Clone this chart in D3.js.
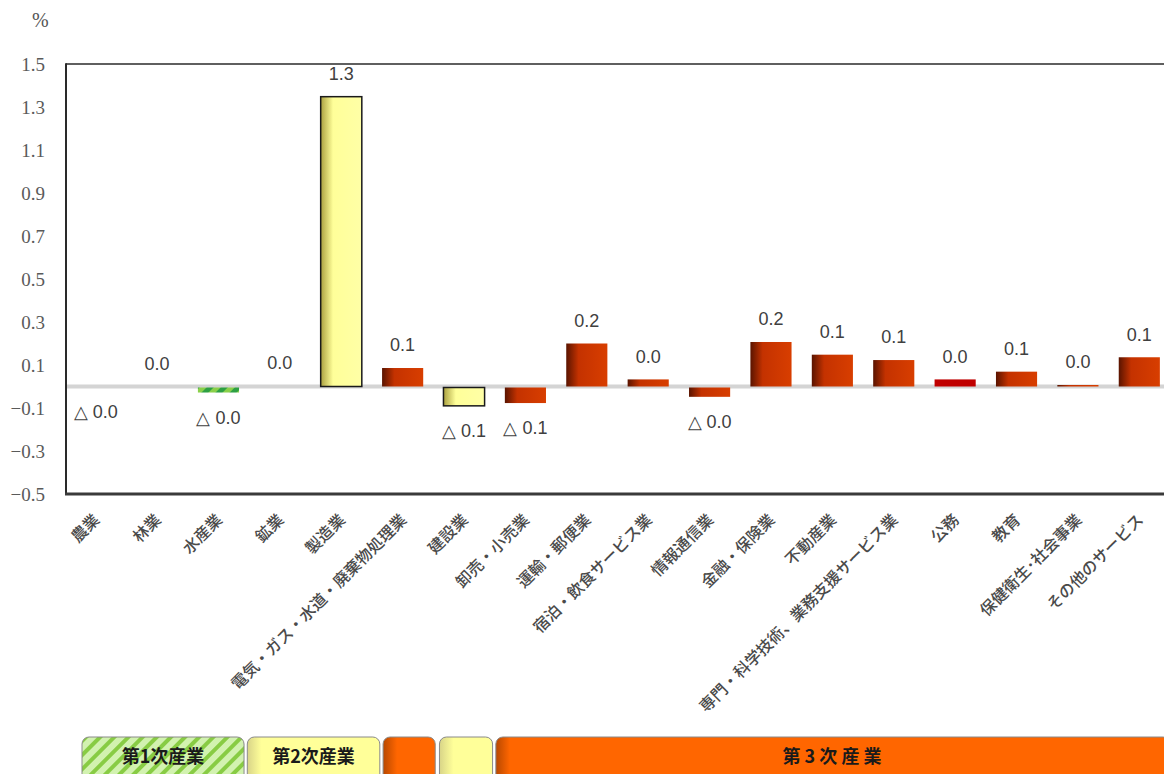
<!DOCTYPE html>
<html><head><meta charset="utf-8">
<script src="https://cdn.jsdelivr.net/npm/d3@7"></script>
<style>
html,body{margin:0;padding:0;background:#fff;}
svg{display:block;}
</style></head>
<body>
<svg id="chart" width="1164" height="774"></svg>
<script>
// ---- data ----
const categories = ["農業","林業","水産業","鉱業","製造業","電気・ガス・水道・廃棄物処理業","建設業","卸売・小売業","運輸・郵便業","宿泊・飲食サービス業","情報通信業","金融・保険業","不動産業","専門・科学技術、業務支援サービス業","公務","教育","保健衛生･社会事業","その他のサービス"];
const values = [-0.002, 0.001, -0.028, 0.002, 1.348, 0.086, -0.09, -0.077, 0.20, 0.033, -0.048, 0.207, 0.148, 0.123, 0.033, 0.069, 0.007, 0.136];
const barTypes = ["primary","primary","primary","secondary","secondary","tertiary","secondary","tertiary","tertiary","tertiary","tertiary","tertiary","tertiary","tertiary","public","tertiary","tertiary","tertiary"];
const yTicks = [1.5, 1.3, 1.1, 0.9, 0.7, 0.5, 0.3, 0.1, -0.1, -0.3, -0.5];
const groupLabels = ["第1次産業","第2次産業","","","第 3 次 産 業"];
const groupTypes = ["primary","secondary","tertiary","secondary","tertiary"];
const groupStart = [0, 3, 5, 6, 7];
const groupEnd = [2, 4, 5, 6, 17];

// ---- drawing ----
const svg = d3.select("#chart");
const defs = svg.append("defs");

const gRed = defs.append("linearGradient").attr("id","gRed").attr("x1","0").attr("x2","1").attr("y1","0").attr("y2","0");
gRed.append("stop").attr("offset","0").attr("stop-color","#5a1400");
gRed.append("stop").attr("offset","0.3").attr("stop-color","#c43200");
gRed.append("stop").attr("offset","1").attr("stop-color","#d83e00");

const gYel = defs.append("linearGradient").attr("id","gYel").attr("x1","0").attr("x2","1").attr("y1","0").attr("y2","0");
gYel.append("stop").attr("offset","0").attr("stop-color","#aaa040");
gYel.append("stop").attr("offset","0.3").attr("stop-color","#ffff99");
gYel.append("stop").attr("offset","1").attr("stop-color","#ffffa6");

const pat = defs.append("pattern").attr("id","pGreen").attr("patternUnits","userSpaceOnUse")
  .attr("width",10).attr("height",10).attr("patternTransform","rotate(45)");
pat.append("rect").attr("width",10).attr("height",10).attr("fill","#d2f2b0");
pat.append("rect").attr("width",4).attr("height",10).attr("fill","#88cc44");

const pat2 = defs.append("pattern").attr("id","pGreenBar").attr("patternUnits","userSpaceOnUse")
  .attr("width",10).attr("height",10).attr("patternTransform","rotate(45)");
pat2.append("rect").attr("width",10).attr("height",10).attr("fill","#8ad04a");
pat2.append("rect").attr("width",5).attr("height",10).attr("fill","#2ea043");

const fills = {primary:"url(#pGreenBar)", secondary:"url(#gYel)", tertiary:"url(#gRed)", public:"#c00000"};
const boxBase = {secondary:["#d8d488","#ffff99"], tertiary:["#b84800","#ff6600"]};

const x = d3.scaleBand().domain(categories).range([65, 1170]).paddingInner(0.33).paddingOuter(0.165);
const y = d3.scaleLinear().domain([-0.5, 1.5]).range([494, 64]);

// % unit
svg.append("text").attr("x", 32).attr("y", 27).text("%")
  .attr("font-family","'Liberation Serif', serif").attr("font-size",20).attr("fill","#555");

// y axis labels
const yAxis = d3.axisLeft(y).tickValues(yTicks).tickSize(0).tickPadding(21).tickFormat(d3.format(".1f"));
const ga = svg.append("g").attr("transform","translate(66,0)").call(yAxis);
ga.select(".domain").remove();
ga.selectAll("text").attr("font-family","'Liberation Serif', 'DejaVu Serif', serif").attr("font-size",19).attr("fill","#5a5a5a");

// zero line
svg.append("line").attr("x1",66).attr("x2",1170).attr("y1",y(0)).attr("y2",y(0))
  .attr("stroke","#d4d4d4").attr("stroke-width",4);

// bars
const idx = d3.range(categories.length);
svg.append("g").selectAll("rect").data(idx).join("rect")
  .attr("x", i => x(categories[i]))
  .attr("width", x.bandwidth())
  .attr("y", i => values[i] >= 0 ? y(values[i]) : y(0) + 1)
  .attr("height", i => Math.max(0, Math.abs(y(values[i]) - y(0)) - (values[i] < 0 ? 1 : 0)))
  .attr("fill", i => fills[barTypes[i]])
  .attr("stroke", i => barTypes[i] === "secondary" ? "#1a1a1a" : "none")
  .attr("stroke-width", 1.5)
  .attr("display", i => Math.abs(y(values[i]) - y(0)) < 0.8 ? "none" : null);

// value labels
const fmt = v => v < 0 ? "△ " + Math.abs(v).toFixed(1) : v.toFixed(1);
svg.append("g").selectAll("text").data(idx).join("text")
  .attr("x", i => x(categories[i]) + x.bandwidth() / 2)
  .attr("y", i => values[i] >= 0 ? y(values[i]) - 23 : y(values[i]) + 25)
  .attr("dy","0.35em")
  .attr("text-anchor","middle")
  .attr("font-family","'Liberation Sans', Arial, sans-serif")
  .attr("font-size",18)
  .attr("fill","#404040")
  .text(i => fmt(values[i]));

// frame
svg.append("line").attr("x1",66).attr("x2",1170).attr("y1",64).attr("y2",64).attr("stroke","#2a2a2a").attr("stroke-width",1.5);
svg.append("line").attr("x1",66).attr("x2",66).attr("y1",63.25).attr("y2",495).attr("stroke","#2a2a2a").attr("stroke-width",2);
svg.append("line").attr("x1",65).attr("x2",1170).attr("y1",494).attr("y2",494).attr("stroke","#3a3a3a").attr("stroke-width",3);

// category labels
svg.append("g").selectAll("text").data(categories).join("text")
  .attr("transform", d => `translate(${x(d) + x.bandwidth()/2 + 1},${517}) rotate(-45)`)
  .attr("dy","0.35em")
  .attr("text-anchor","end")
  .attr("font-family","'Noto Sans CJK JP', sans-serif")
  .attr("font-size",16)
  .attr("font-weight",500)
  .attr("fill","#4a4a4a")
  .text(d => d);

// industry group boxes (edges derived from the band scale, nudged to match the source layout)
const edgeNudgeL = [-x.paddingOuter()*x.step() + 17, -12, 1, -4, -9];
const edgeNudgeR = [5, 18, 12, 8, 10];
const gg = svg.append("g");
groupLabels.forEach((lab, k) => {
  const left = x(categories[groupStart[k]]) + edgeNudgeL[k];
  const right = x(categories[groupEnd[k]]) + x.bandwidth() + edgeNudgeR[k];
  let fill;
  if (groupTypes[k] === "primary") {
    fill = "url(#pGreen)";
  } else {
    const id = "gBox" + k;
    const c = boxBase[groupTypes[k]];
    const lg = defs.append("linearGradient").attr("id", id).attr("gradientUnits","userSpaceOnUse")
      .attr("x1", left).attr("x2", left + 14).attr("y1", 0).attr("y2", 0);
    lg.append("stop").attr("offset","0").attr("stop-color", c[0]);
    lg.append("stop").attr("offset","1").attr("stop-color", c[1]);
    fill = `url(#${id})`;
  }
  gg.append("rect").attr("x", left).attr("y", 737).attr("width", right - left).attr("height", 50)
    .attr("rx", 7).attr("ry", 7)
    .attr("fill", fill)
    .attr("stroke", "#8a8a8a").attr("stroke-width", 1);
  if (lab) {
    gg.append("text").attr("x", k === 4 ? 832 : (left + right) / 2).attr("y", 757).attr("dy","0.35em")
      .attr("text-anchor","middle")
      .attr("font-family","'Noto Sans CJK JP', sans-serif")
      .attr("font-weight",700).attr("font-size",18).attr("fill","#1a1a1a")
      .text(lab);
  }
});
</script>
</body></html>
